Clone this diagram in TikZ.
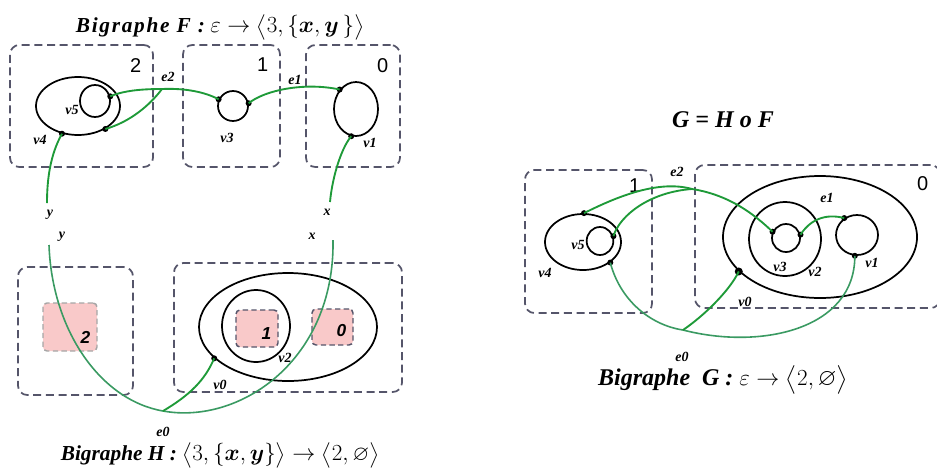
\documentclass[tikz,border=0pt]{standalone}
\usepackage{amsmath,amssymb}
\usepackage{fontspec}
\setmainfont{Liberation Serif}
\setsansfont{Liberation Sans}
\usetikzlibrary{shapes.geometric, arrows.meta}
\definecolor{regiao}{HTML}{55556A}
\definecolor{sitio}{HTML}{F9C9C9}
\definecolor{ligF}{HTML}{1E9A38}
\definecolor{ligG}{HTML}{3A9A62}

\begin{document}
\begin{tikzpicture}[
    x=0.75pt, y=-0.75pt,
    region/.style={draw=regiao, dash pattern=on 6pt off 3.5pt, line width=1.3pt,
                   rounded corners=7pt, inner sep=0pt},
    site/.style={draw=regiao, fill=sitio, dash pattern=on 4pt off 2.5pt,
                 line width=1.1pt, rounded corners=3pt, inner sep=0pt},
    noeud/.style={draw, ellipse, line width=1.3pt, inner sep=0pt},
    port/.style={circle, fill=black, inner sep=0pt, minimum size=4.5pt},
    lien/.style={ligF, line width=1.4pt},
    lienG/.style={ligG, line width=1.2pt},
    etiq/.style={font=\fontsize{10.5}{10.5}\selectfont\bfseries\itshape},
    num/.style={font=\fontsize{15}{15}\selectfont\sffamily},
    numsite/.style={font=\fontsize{13}{13}\selectfont\sffamily\bfseries\itshape},
    titre/.style={font=\fontsize{16}{16}\selectfont\bfseries\itshape}
  ]
    \useasboundingbox (0,0) rectangle (937,475);

    % --- Bigraphe F ---
    \node[titre] (titreF) at (220,27)
      {{\addfontfeature{LetterSpace=8}Bigraphe F :} $\varepsilon \rightarrow \big\langle 3, \{\boldsymbol{x} , \boldsymbol{y}\,\}\big\rangle$};
    \node[region, minimum width=107.25pt, minimum height=91.5pt] (Fr2) at (81.5,106) {};
    \node[region, minimum width=72.75pt, minimum height=91.5pt] (Fr1) at (231.5,106) {};
    \node[region, minimum width=70.5pt, minimum height=91.5pt] (Fr0) at (353,106) {};
    \node[num, anchor=north east] at ([shift={(-6pt,-7pt)}]Fr2.north east) {2};
    \node[num, anchor=north east] at ([shift={(-6pt,-7pt)}]Fr1.north east) {1};
    \node[num, anchor=north east] at ([shift={(-6pt,-7pt)}]Fr0.north east) {0};

    \node[noeud, minimum width=63pt, minimum height=43.5pt] (Fv4) at (78,106) {};
    \node[noeud, minimum width=22.5pt, minimum height=24pt] (Fv5) at (95,101) {};
    \node[noeud, minimum width=22.5pt, minimum height=22.5pt] (Fv3) at (233,106) {};
    \node[noeud, minimum width=33pt, minimum height=40.5pt] (Fv1) at (356,109) {};
    \node[etiq] at (72,110) {v5};
    \node[etiq] at (40,140) {v4};
    \node[etiq] at (227,138) {v3};
    \node[etiq] at (370,143) {v1};

    \node[port] (Fp5) at (Fv5.17) {};
    \node[port] (Fp4a) at (Fv4.-40) {};
    \node[port] (Fp4b) at (Fv4.-120) {};
    \node[port] (Fp3a) at (Fv3.155) {};
    \node[port] (Fp3b) at (Fv3.10) {};
    \node[port] (Fp1a) at (Fv1.130) {};
    \node[port] (Fp1b) at (Fv1.-100) {};
    \coordinate (Fe2) at (162,89);
    \coordinate (Fy) at (47,203);
    \coordinate (Fx) at (330,202);
    \node[etiq] at (168,77) {e2};
    \node[etiq] at (295,80) {e1};
    \node[etiq] at (50,215) {y};
    \node[etiq] at (327,212) {x};

    \draw[lien] (Fp5.center) .. controls (125,90) and (145,89) .. (Fe2);
    \draw[lien] (Fe2) .. controls (185,88) and (205,92) .. (Fp3a.center);
    \draw[lien] (Fp4a.center) .. controls (130,122) and (150,105) .. (Fe2);
    \draw[lien] (Fp3b.center) .. controls (265,90) and (305,82) .. (Fp1a.center);
    \draw[lien] (Fp4b.center) .. controls (50,155) and (47,180) .. (Fy);
    \draw[lien] (Fp1b.center) .. controls (340,150) and (332,180) .. (Fx);

    % --- Bigraphe H ---
    \node[region, minimum width=86.25pt, minimum height=96pt] (Hr1) at (75.5,331) {};
    \node[region, minimum width=171pt, minimum height=96.75pt] (Hr0) at (288,327.5) {};
    \node[site, draw=gray!70, minimum width=40.5pt, minimum height=36pt] (Hs2) at (70,327) {};
    \node[noeud, minimum width=133.5pt, minimum height=81pt] (Hv0) at (288,327) {};
    \node[noeud, minimum width=51pt, minimum height=54pt] (Hv2) at (256,326) {};
    \node[site, minimum width=31.5pt, minimum height=27.75pt] (Hs1) at (257,328.5) {};
    \node[site, minimum width=30.75pt, minimum height=27pt] (Hs0) at (332.5,327) {};
    \node[numsite, anchor=south east] at ([shift={(-2pt,3pt)}]Hs2.south east) {2};
    \node[numsite, anchor=south east] at ([shift={(-2pt,3pt)}]Hs1.south east) {1};
    \node[numsite, anchor=south east] at ([shift={(-2pt,3pt)}]Hs0.south east) {0};
    \node[etiq] at (285,358) {v2};
    \node[etiq] at (220,385) {v0};

    \node[port] (Hp0) at (Hv0.-157) {};
    \coordinate (Hy) at (49,245);
    \coordinate (Hx) at (333,240);
    \coordinate (He0) at (163,411);
    \node[etiq] at (62,237) {y};
    \node[etiq] at (312,236) {x};
    \node[etiq] at (163,432) {e0};

    \draw[lienG] (Hy) .. controls (52,330) and (100,400) .. (He0)
                 .. controls (240,425) and (335,360) .. (Hx);
    \draw[lien] (He0) .. controls (190,395) and (205,380) .. (Hp0.center);

    \node[titre] (titreH) at (220,455)
      {Bigraphe H : $\big\langle 3, \{\boldsymbol{x} , \boldsymbol{y}\}\big\rangle \rightarrow \big\langle 2, \varnothing\big\rangle$};

    % --- Bigraphe G = H o F ---
    \node[titre, font=\fontsize{18}{18}\selectfont\bfseries\itshape] (titreGHF) at (723,120) {G = H o F};
    \node[region, minimum width=95.25pt, minimum height=107.25pt] (Gr1) at (588.5,241.5) {};
    \node[region, minimum width=183.75pt, minimum height=107.25pt] (Gr0) at (817.5,236.5) {};
    \node[num, anchor=north east] at ([shift={(-6pt,-4pt)}]Gr1.north east) {1};
    \node[num, anchor=north east] at ([shift={(-6pt,-6pt)}]Gr0.north east) {0};

    \node[noeud, minimum width=57pt, minimum height=42pt] (Gv4) at (583,242) {};
    \node[noeud, minimum width=20pt, minimum height=21pt] (Gv5) at (600,241) {};
    \node[noeud, minimum width=145.5pt, minimum height=91.5pt] (Gv0) at (820,237) {};
    \node[noeud, minimum width=54pt, minimum height=55.5pt] (Gv2) at (785,239) {};
    \node[noeud, minimum width=21pt, minimum height=21pt] (Gv3) at (786,238) {};
    \node[noeud, minimum width=31.5pt, minimum height=30pt] (Gv1) at (857,235) {};
    \node[etiq] at (578,245) {v5};
    \node[etiq] at (545,273) {v4};
    \node[etiq] at (780,267) {v3};
    \node[etiq] at (815,272) {v2};
    \node[etiq] at (872,263) {v1};
    \node[etiq] at (745,302) {v0};

    \node[port] (Gp4a) at (Gv4.88) {};
    \node[port] (Gp5) at (Gv5.20) {};
    \node[port] (Gp4b) at (Gv4.-37) {};
    \node[port] (Gp3a) at (Gv3.155) {};
    \node[port] (Gp3b) at (Gv3.13) {};
    \node[port] (Gp1a) at (Gv1.127) {};
    \node[port] (Gp1b) at (Gv1.-96) {};
    \node[port, minimum size=6pt] (Gp0) at (Gv0.-157) {};
    \coordinate (Ge2) at (692,189);
    \coordinate (Ge0) at (683,330);
    \node[etiq] at (677,172) {e2};
    \node[etiq] at (827,198) {e1};
    \node[etiq] at (682,357) {e0};

    \draw[lien] (Gp4a.center) .. controls (620,195) and (660,180) .. (Ge2);
    \draw[lien] (Gp5.center) .. controls (620,215) and (650,192) .. (Ge2);
    \draw[lien] (Ge2) .. controls (730,195) and (755,215) .. (Gp3a.center);
    \draw[lien] (Gp3b.center) .. controls (810,220) and (825,213) .. (Gp1a.center);
    \draw[lienG] (Gp4b.center) .. controls (620,300) and (650,325) .. (Ge0);
    \draw[lienG] (Ge0) .. controls (760,350) and (855,330) .. (Gp1b.center);
    \draw[lien] (Ge0) .. controls (705,315) and (730,290) .. (Gp0.center);

    \node[titre, font=\fontsize{18}{18}\selectfont\bfseries\itshape] (titreG) at (723,380)
      {Bigraphe\ \ G : $\varepsilon \rightarrow \big\langle 2, \varnothing\big\rangle$};

  \end{tikzpicture}
\end{document}
